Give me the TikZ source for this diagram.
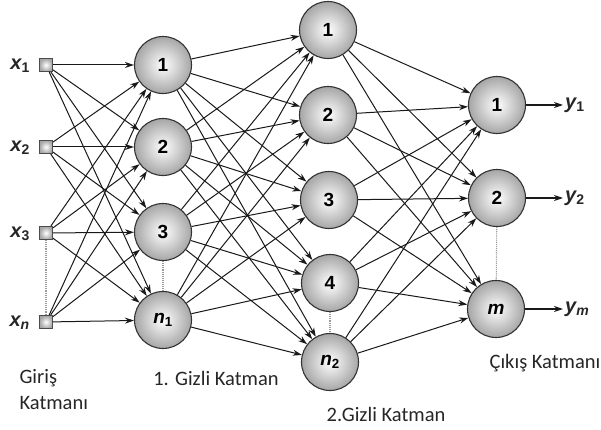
\documentclass[tikz,border=0pt]{standalone}
\usepackage{fontspec}
\setmainfont{Liberation Sans}
\newfontfamily\lblfont{Carlito}
\usetikzlibrary{arrows.meta,shadings}
\begin{document}
\begin{tikzpicture}[x=1pt,y=-1pt,
  neuron/.style={circle,draw=black!80,line width=1.1pt,minimum size=57pt,inner sep=0pt,
    inner color=white,outer color=black!35,font=\bfseries\fontsize{19}{19}\selectfont},
  inbox/.style={rectangle,draw=black!70,line width=1pt,minimum size=13pt,inner sep=0pt,
    inner color=white,outer color=black!35},
  conn/.style={-{Stealth[length=9pt,width=6pt]},line width=1pt,black!90},
  dots/.style={densely dotted,line width=1.1pt,black!40},
  lbl/.style={font=\bfseries\itshape\fontsize{20}{20}\selectfont,text=black!85,inner sep=2pt},
  captxt/.style={font=\lblfont\fontsize{20.5}{26}\selectfont,text=black!85,align=left}
]
\useasboundingbox (0,0) rectangle (601,430);
% input
\foreach \i/\y in {1/65,2/147,3/233,4/322}{
  \node[inbox] (x\i) at (46,\y) {};
}
\node[lbl,anchor=east] at (32,66) {x\textsubscript{\upshape 1}};
\node[lbl,anchor=east] at (32,148) {x\textsubscript{\upshape 2}};
\node[lbl,anchor=east] at (32,234) {x\textsubscript{\upshape 3}};
\node[lbl,anchor=east] at (32,323) {x\textsubscript{n}};
% hidden 1
\node[neuron] (h1) at (163,65) {1};
\node[neuron] (h2) at (163,147) {2};
\node[neuron] (h3) at (163,232) {3};
\node[neuron] (h4) at (163,320) {\itshape n\textsubscript{\upshape 1}};
% hidden 2
\node[neuron] (g1) at (328,30) {1};
\node[neuron] (g2) at (328,115) {2};
\node[neuron] (g3) at (329,200) {3};
\node[neuron] (g4) at (330,283) {4};
\node[neuron] (g5) at (330,362) {\itshape n\textsubscript{\upshape 2}};
% output
\node[neuron] (o1) at (497,105) {1};
\node[neuron] (o2) at (497,198) {2};
\node[neuron] (o3) at (496,309) {\itshape m};
% dotted
\draw[dots] (x3) -- (x4);
\draw[dots] (h3) -- (h4);
\draw[dots] (g4) -- (g5);
\draw[dots] (o2) -- (o3);
% connections
\foreach \a in {1,...,4}{\foreach \b in {1,...,4}{\draw[conn] (x\a) -- (h\b);}}
\foreach \a in {1,...,4}{\foreach \b in {1,...,5}{\draw[conn] (h\a) -- (g\b);}}
\foreach \a in {1,...,5}{\foreach \b in {1,...,3}{\draw[conn] (g\a) -- (o\b);}}
% outputs
\node[lbl,anchor=west] (y1) at (563,105) {y\textsubscript{\upshape 1}};
\node[lbl,anchor=west] (y2) at (563,198) {y\textsubscript{\upshape 2}};
\node[lbl,anchor=west] (y3) at (563,309) {y\textsubscript{m}};
\draw[conn,line width=1.4pt] (o1) -- (y1);
\draw[conn,line width=1.4pt] (o2) -- (y2);
\draw[conn,line width=1.4pt] (o3) -- (y3);
% captions
\node[captxt,anchor=north west] at (16,366) {Giriş\\Katmanı};
\node[captxt] at (216,378) {1. Gizli Katman};
\node[captxt] at (386,414) {2.Gizli Katman};
\node[captxt] at (545,363) {Çıkış Katmanı};
\end{tikzpicture}
\end{document}
